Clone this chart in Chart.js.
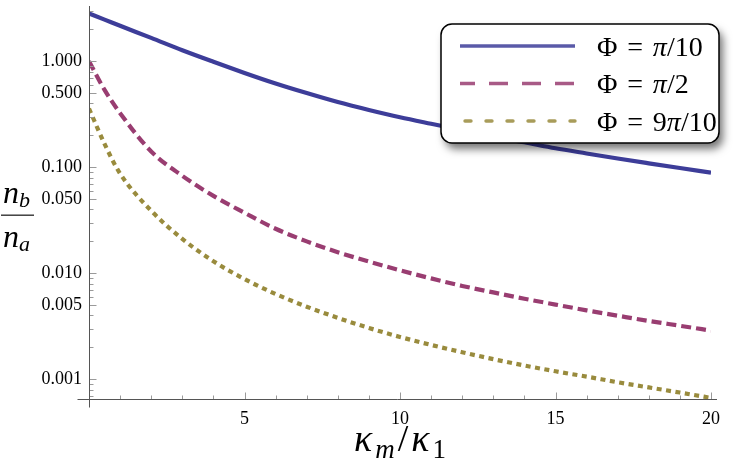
<!DOCTYPE html>
<html>
<head>
<meta charset="utf-8">
<script src="https://cdn.jsdelivr.net/npm/chart.js@4.4.0/dist/chart.umd.min.js"></script>
<style>
  html, body { margin: 0; padding: 0; background: #fff; }
  #wrap { width: 735px; height: 461px; }
</style>
</head>
<body>
<div id="wrap"><canvas id="chart" width="735" height="461"></canvas></div>
<script>
// values
const xValues = [0, 0.5, 1, 2, 3, 4, 5, 6, 7, 8, 9, 10, 11, 12, 13, 14, 15, 16, 17, 18, 19, 20];
const phiTenth = [2.82, 2.47, 2.16, 1.66, 1.27, 0.989, 0.776, 0.617, 0.501, 0.412, 0.347, 0.296,
  0.257, 0.224, 0.195, 0.172, 0.151, 0.135, 0.121, 0.109, 0.0984, 0.0891];
const phiHalf = [1.0, 0.537, 0.324, 0.141, 0.083, 0.0537, 0.0372, 0.0263, 0.02, 0.0158, 0.0129, 0.01067,
  0.00895, 0.0076, 0.0066, 0.00575, 0.00507, 0.00447, 0.00398, 0.00355, 0.0032, 0.00288];
const phiNineTenths = [0.358, 0.166, 0.0871, 0.0389, 0.0211, 0.013, 0.00881, 0.00638, 0.00484, 0.0038,
  0.00305, 0.00251, 0.00211, 0.0018, 0.00155, 0.00135, 0.00119, 0.00106, 0.000938, 0.000838, 0.00075, 0.000668];
const seriesLabels = ["Φ = π/10", "Φ = π/2", "Φ = 9π/10"];
const yTickValues = [0.001, 0.005, 0.01, 0.05, 0.1, 0.5, 1];
const xTickValues = [5, 10, 15, 20];

const SERIF = '"Liberation Serif", "Times New Roman", serif';

function toPoints(ys) {
  return ys.map((y, i) => ({ x: xValues[i], y: y }));
}

// axes in the Mathematica style: thin lines, inward ticks, small overhang
const axesPlugin = {
  id: "axes",
  afterDatasetsDraw(chart) {
    const { ctx, chartArea, scales } = chart;
    const xs = scales.x, ys = scales.y;
    const x0 = Math.round(xs.getPixelForValue(0)) + 0.5;
    const yb = Math.round(chartArea.bottom) + 0.5;
    ctx.save();
    ctx.lineWidth = 1;
    ctx.strokeStyle = "#9a9a9a";
    ctx.beginPath();
    for (let i = 1; i <= 20; i++) {
      const px = Math.round(xs.getPixelForValue(i)) + 0.5;
      const len = i % 5 === 0 ? 7 : 4;
      ctx.moveTo(px, yb);
      ctx.lineTo(px, yb - len);
    }
    for (let d = -4; d <= 0; d++) {
      for (let m = 1; m <= 9; m++) {
        const v = m * Math.pow(10, d);
        if (v < ys.min || v > ys.max) continue;
        const py = Math.round(ys.getPixelForValue(v)) + 0.5;
        const len = (m === 1 || m === 5) ? 7 : 4;
        ctx.moveTo(x0, py);
        ctx.lineTo(x0 + len, py);
      }
    }
    ctx.stroke();
    ctx.strokeStyle = "#555";
    ctx.beginPath();
    ctx.moveTo(x0 - 12, yb);
    ctx.lineTo(chartArea.right + 6, yb);
    ctx.moveTo(x0, chartArea.top);
    ctx.lineTo(x0, yb + 8);
    ctx.stroke();
    ctx.restore();
  }
};

// draw a legend label, with π in italics and even space around "="
function drawMath(ctx, text, x, y, size) {
  const parts = text.replace(/ /g, "").split(/(π|=)/).filter(s => s.length);
  const gap = size * 0.35;
  let cx = x;
  parts.forEach(p => {
    ctx.font = (p === "π" ? "italic " : "") + size + "px " + SERIF;
    if (p === "=") cx += gap;
    ctx.fillText(p, cx, y);
    cx += ctx.measureText(p).width;
    if (p === "=") cx += gap;
  });
}

const legendPlugin = {
  id: "boxLegend",
  afterDraw(chart) {
    const ctx = chart.ctx;
    const bx = 441, by = 24, bw = 278, bh = 119, r = 11;
    ctx.save();
    ctx.beginPath();
    ctx.roundRect(bx, by, bw, bh, r);
    ctx.shadowColor = "rgba(0,0,0,0.55)";
    ctx.shadowBlur = 8;
    ctx.shadowOffsetX = 4;
    ctx.shadowOffsetY = 6;
    ctx.fillStyle = "#fff";
    ctx.fill();
    ctx.shadowColor = "transparent";
    ctx.lineWidth = 1.5;
    ctx.strokeStyle = "#000";
    ctx.stroke();

    const rowsY = [46, 83.5, 121];
    const dashes = [[], [19, 14], [6, 15]];
    const offsets = [0, 4, 0];
    chart.data.datasets.forEach((ds, i) => {
      ctx.beginPath();
      ctx.setLineDash(dashes[i]);
      ctx.lineDashOffset = offsets[i];
      ctx.lineCap = i === 2 ? "round" : "butt";
      ctx.lineWidth = 3.4;
      ctx.strokeStyle = ds.borderColor;
      ctx.globalAlpha = 0.85;
      const x1 = i === 2 ? 465 : 460;
      ctx.moveTo(x1, rowsY[i]);
      ctx.lineTo(575, rowsY[i]);
      ctx.stroke();
      ctx.globalAlpha = 1;
      ctx.setLineDash([]);
      ctx.fillStyle = "#000";
      ctx.textBaseline = "alphabetic";
      drawMath(ctx, ds.label, 597, rowsY[i] + 9.5, 28);
    });
    ctx.restore();
  }
};

const titlesPlugin = {
  id: "titles",
  afterDraw(chart) {
    const ctx = chart.ctx;
    ctx.save();
    ctx.fillStyle = "#000";
    ctx.textBaseline = "alphabetic";
    // y axis: n_b over n_a
    ctx.font = "italic 32px " + SERIF;
    const wn = ctx.measureText("n").width;
    ctx.fillText("n", 3, 203);
    ctx.fillText("n", 3, 247);
    ctx.font = "italic 22px " + SERIF;
    ctx.fillText("b", 3 + wn, 207);
    ctx.fillText("a", 3 + wn, 251);
    ctx.fillStyle = "#333";
    ctx.fillRect(1, 214.5, 33, 1.4);
    // x axis: kappa_m / kappa_1
    ctx.fillStyle = "#000";
    const big = "italic 38px " + SERIF, small = "italic 27px " + SERIF, up = "38px " + SERIF, upSmall = "27px " + SERIF;
    const runs = [["κ", big, 0], ["m", small, 7], ["/", up, 0], ["κ", big, 0], ["1", upSmall, 7]];
    const gap = 3;
    let total = -gap;
    runs.forEach(r => { ctx.font = r[1]; total += ctx.measureText(r[0]).width + gap; });
    let cx = 400 - total / 2;
    runs.forEach(r => {
      ctx.font = r[1];
      ctx.fillText(r[0], cx, 451 + r[2]);
      cx += ctx.measureText(r[0]).width + gap;
    });
    ctx.restore();
  }
};

new Chart(document.getElementById("chart"), {
  type: "line",
  data: {
    datasets: [
      {
        label: seriesLabels[0],
        data: toPoints(phiTenth),
        borderColor: "#3d3d99",
        borderWidth: 4.2,
      },
      {
        label: seriesLabels[1],
        data: toPoints(phiHalf),
        borderColor: "#993d71",
        borderWidth: 4.2,
        borderDash: [10, 5],
      },
      {
        label: seriesLabels[2],
        data: toPoints(phiNineTenths),
        borderColor: "#998b3d",
        borderWidth: 4.2,
        borderDash: [5, 4.5],
      },
    ],
  },
  options: {
    responsive: false,
    animation: false,
    layout: { padding: { top: 6, right: 24, left: 0, bottom: 0 } },
    elements: {
      point: { radius: 0 },
      line: { tension: 0.4, cubicInterpolationMode: "monotone", fill: false },
    },
    plugins: {
      legend: { display: false },
      tooltip: { enabled: false },
    },
    scales: {
      x: {
        type: "linear",
        min: 0,
        max: 20,
        grid: { display: false, drawTicks: false },
        border: { display: false },
        afterBuildTicks(scale) { scale.ticks = xTickValues.map(v => ({ value: v })); },
        afterFit(scale) {
          scale.height = 62;
          scale.paddingLeft = 0;
          scale.paddingRight = 0;
        },
        ticks: {
          autoSkip: false,
          maxRotation: 0,
          padding: 9,
          color: "#000",
          font: { family: SERIF, size: 18 },
          callback: v => String(v),
        },
      },
      y: {
        type: "logarithmic",
        min: 0.000652,
        max: 3.32,
        grid: { display: false, drawTicks: false },
        border: { display: false },
        afterBuildTicks(scale) { scale.ticks = yTickValues.map(v => ({ value: v })); },
        afterFit(scale) {
          scale.width = 89;
          scale.paddingTop = 0;
          scale.paddingBottom = 0;
        },
        ticks: {
          autoSkip: false,
          padding: 7,
          color: "#000",
          font: { family: SERIF, size: 18 },
          callback: v => Number(v).toFixed(3),
        },
      },
    },
  },
  plugins: [axesPlugin, legendPlugin, titlesPlugin],
});
</script>
</body>
</html>
